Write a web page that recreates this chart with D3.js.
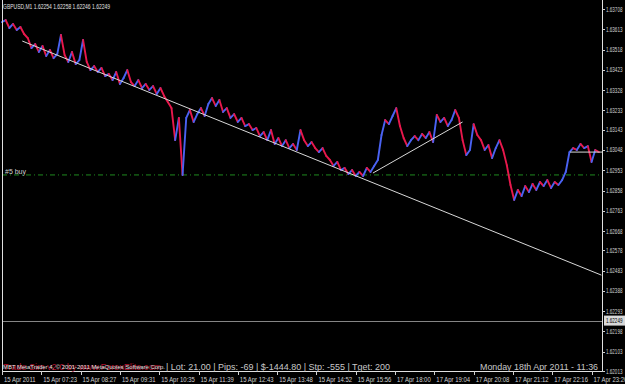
<!DOCTYPE html>
<html>
<head>
<meta charset="utf-8">
<script src="https://cdn.jsdelivr.net/npm/d3@7"></script>
<style>
  body { margin: 0; background: #000; }
  svg { display: block; }
  text { font-family: "Liberation Sans", Arial, sans-serif; }
</style>
</head>
<body>
<svg width="625" height="384"></svg>
<script>
const symbol = 'GBPUSD,M1';
const lastQuote = [1.62254, 1.62258, 1.62246, 1.62249];

const priceTicks = [1.63708, 1.63613, 1.63518, 1.63423, 1.63328, 1.63233, 1.63143, 1.63048,
  1.62953, 1.62858, 1.62763, 1.62668, 1.62578, 1.62483, 1.62388, 1.62293, 1.62198, 1.62103, 1.62013];

// one label every 64 one-minute bars
const timeLabels = ['15 Apr 2011', '15 Apr 07:23', '15 Apr 08:27', '15 Apr 09:31', '15 Apr 10:35',
  '15 Apr 11:39', '15 Apr 12:43', '15 Apr 13:48', '15 Apr 14:52', '15 Apr 15:56', '17 Apr 18:00',
  '17 Apr 19:04', '17 Apr 20:08', '17 Apr 21:12', '17 Apr 22:16', '17 Apr 23:20'];

// close sampled every 6 bars
const closes = [
  1.63647, 1.63656, 1.63619, 1.63638, 1.63610, 1.63624, 1.63591, 1.63572, 1.63525, 1.63544,
  1.63507, 1.63535, 1.63488, 1.63516, 1.63478, 1.63497, 1.63586, 1.63492, 1.63460, 1.63507,
  1.63450, 1.63469, 1.63563, 1.63460, 1.63422, 1.63441, 1.63413, 1.63432, 1.63394, 1.63404,
  1.63375, 1.63413, 1.63357, 1.63385, 1.63422, 1.63366, 1.63347, 1.63375, 1.63338, 1.63357,
  1.63329, 1.63347, 1.63310, 1.63338, 1.63301, 1.63272, 1.63244, 1.63094, 1.63198, 1.62931,
  1.63198, 1.63235, 1.63179, 1.63216, 1.63244, 1.63207, 1.63263, 1.63291, 1.63254, 1.63282,
  1.63226, 1.63244, 1.63198, 1.63216, 1.63179, 1.63198, 1.63160, 1.63169, 1.63141, 1.63151,
  1.63113, 1.63132, 1.63094, 1.63141, 1.63076, 1.63104, 1.63066, 1.63094, 1.63057, 1.63076,
  1.63048, 1.63141, 1.63094, 1.63066, 1.63085, 1.63057, 1.63038, 1.63057, 1.63020, 1.63001,
  1.62973, 1.62992, 1.62954, 1.62964, 1.62935, 1.62954, 1.62926, 1.62945, 1.62926, 1.62964,
  1.62945, 1.62973, 1.63001, 1.63118, 1.63188, 1.63169, 1.63207, 1.63244, 1.63160, 1.63104,
  1.63066, 1.63094, 1.63113, 1.63094, 1.63123, 1.63104, 1.63132, 1.63085, 1.63212, 1.63179,
  1.63198, 1.63160, 1.63188, 1.63235, 1.63198, 1.63094, 1.63024, 1.63048, 1.63169, 1.63118,
  1.63094, 1.63048, 1.63071, 1.63010, 1.63057, 1.63094, 1.63048, 1.62977, 1.62884, 1.62814,
  1.62861, 1.62832, 1.62879, 1.62851, 1.62889, 1.62861, 1.62898, 1.62879, 1.62907, 1.62870,
  1.62898, 1.62884, 1.62907, 1.62945, 1.63038, 1.63057, 1.63048, 1.63076, 1.63057, 1.63066,
  1.62992, 1.63048, 1.63038
];
const barStep = 6;
const labelStep = 64;
const totalMinutes = 977;

const bidPrice = 1.62249;
const buyLevel = 1.62931;
const buyLabel = '#5 buy';

// drawn objects: [minute, price] pairs
const trendLines = [
  [[33, 1.63558], [976, 1.62462]],
  [[604, 1.62940], [750, 1.63179]],
  [[925, 1.63038], [977, 1.63038]]
];

const copyright = 'MBT MetaTrader 4, © 2001-2011 MetaQuotes Software Corp.';
const simText = 'Trade Sim v2.0 by www.ForexElite.com';
const statusText = '| Lot: 21.00 | Pips: -69 | $-1444.80 | Stp: -555 | Tget: 200';
const clockText = 'Monday 18th Apr 2011 - 11:36';

const svg = d3.select('svg');
const plotL = 2, plotR = 602, plotT = 9, plotB = 371;

const x = d3.scaleLinear().domain([0, totalMinutes]).range([plotL, plotR]);
const y = d3.scaleLinear().domain([priceTicks[priceTicks.length - 1], priceTicks[0]]).range([plotB, plotT]);

// buy order level
svg.append('line')
  .attr('x1', plotL).attr('x2', plotR)
  .attr('y1', y(buyLevel)).attr('y2', y(buyLevel))
  .attr('stroke', '#1f8a1f').attr('stroke-dasharray', '5,3,1,3');
svg.append('text')
  .attr('x', 5).attr('y', y(buyLevel) - 1)
  .attr('fill', '#d0d0d0').attr('font-size', 7)
  .text(buyLabel);

// bid line
svg.append('line')
  .attr('x1', plotL).attr('x2', plotR)
  .attr('y1', Math.round(y(bidPrice)) + 0.5).attr('y2', Math.round(y(bidPrice)) + 0.5)
  .attr('stroke', '#858585');

// price segments, blue when rising, red when falling
const segs = d3.pairs(closes.map((c, i) => ({ t: i * barStep, c })));
svg.append('g')
  .selectAll('line')
  .data(segs)
  .enter()
  .append('line')
  .attr('x1', d => x(d[0].t)).attr('y1', d => y(d[0].c))
  .attr('x2', d => x(d[1].t)).attr('y2', d => y(d[1].c))
  .attr('stroke', d => d[1].c >= d[0].c ? '#4a62f2' : '#e8184c')
  .attr('stroke-width', 1.9)
  .attr('stroke-linecap', 'round');

// trend lines
svg.append('g')
  .selectAll('line')
  .data(trendLines)
  .enter()
  .append('line')
  .attr('x1', d => x(d[0][0])).attr('y1', d => y(d[0][1]))
  .attr('x2', d => x(d[1][0])).attr('y2', d => y(d[1][1]))
  .attr('stroke', '#d8d8d8').attr('stroke-width', 1);

// frame
svg.append('path')
  .attr('d', `M${plotL + 0.5},0V${plotB + 0.5}H${plotR + 0.5}V0`)
  .attr('fill', 'none').attr('stroke', '#e0e0e0');

// price axis (labels squeezed horizontally like the terminal font)
const ya = svg.append('g');
ya.selectAll('line')
  .data(priceTicks)
  .enter()
  .append('line')
  .attr('x1', plotR).attr('x2', plotR + 3)
  .attr('y1', d => Math.round(y(d)) + 0.5).attr('y2', d => Math.round(y(d)) + 0.5)
  .attr('stroke', '#d0d0d0');
ya.selectAll('text')
  .data(priceTicks)
  .enter()
  .append('text')
  .attr('transform', d => `translate(${plotR + 4},${y(d) + 2.5}) scale(0.7,1)`)
  .attr('fill', '#d0d0d0').attr('font-size', 6.5)
  .text(d => d.toFixed(5));

// bid label
svg.append('rect')
  .attr('x', plotR + 2).attr('y', y(bidPrice) - 5)
  .attr('width', 21).attr('height', 10)
  .attr('fill', '#d8d8d8');
svg.append('text')
  .attr('transform', `translate(${plotR + 4},${y(bidPrice) + 2.5}) scale(0.7,1)`)
  .attr('fill', '#000').attr('font-size', 6.5)
  .text(bidPrice.toFixed(5));

// time axis
const xa = svg.append('g');
xa.selectAll('line')
  .data(timeLabels)
  .enter()
  .append('line')
  .attr('x1', (d, i) => Math.round(x(i * labelStep)) + 0.5)
  .attr('x2', (d, i) => Math.round(x(i * labelStep)) + 0.5)
  .attr('y1', plotB).attr('y2', plotB + 4)
  .attr('stroke', '#d0d0d0');
xa.selectAll('text')
  .data(timeLabels)
  .enter()
  .append('text')
  .attr('transform', (d, i) => `translate(${x(i * labelStep) + 2},382) scale(0.85,1)`)
  .attr('fill', '#d0d0d0').attr('font-size', 7)
  .text(d => d);

// header
svg.append('text')
  .attr('x', 3).attr('y', 9)
  .attr('fill', '#e0e0e0').attr('font-size', 7)
  .attr('textLength', 107).attr('lengthAdjust', 'spacingAndGlyphs')
  .text(symbol + '  ' + lastQuote.map(v => v.toFixed(5)).join(' '));

// footer texts
svg.append('text')
  .attr('x', 3).attr('y', 370)
  .attr('fill', '#b0102a').attr('font-size', 9)
  .attr('textLength', 158).attr('lengthAdjust', 'spacingAndGlyphs')
  .text(simText);
svg.append('text')
  .attr('x', 3).attr('y', 369)
  .attr('fill', '#e0e0e0').attr('font-size', 6)
  .attr('textLength', 162).attr('lengthAdjust', 'spacingAndGlyphs')
  .text(copyright);
svg.append('text')
  .attr('x', 166).attr('y', 370)
  .attr('fill', '#c8c8c8').attr('font-size', 9.5)
  .attr('textLength', 224).attr('lengthAdjust', 'spacingAndGlyphs')
  .text(statusText);
svg.append('text')
  .attr('x', 480).attr('y', 370)
  .attr('fill', '#c8c8c8').attr('font-size', 9.5)
  .attr('textLength', 118).attr('lengthAdjust', 'spacingAndGlyphs')
  .text(clockText);
</script>
</body>
</html>
